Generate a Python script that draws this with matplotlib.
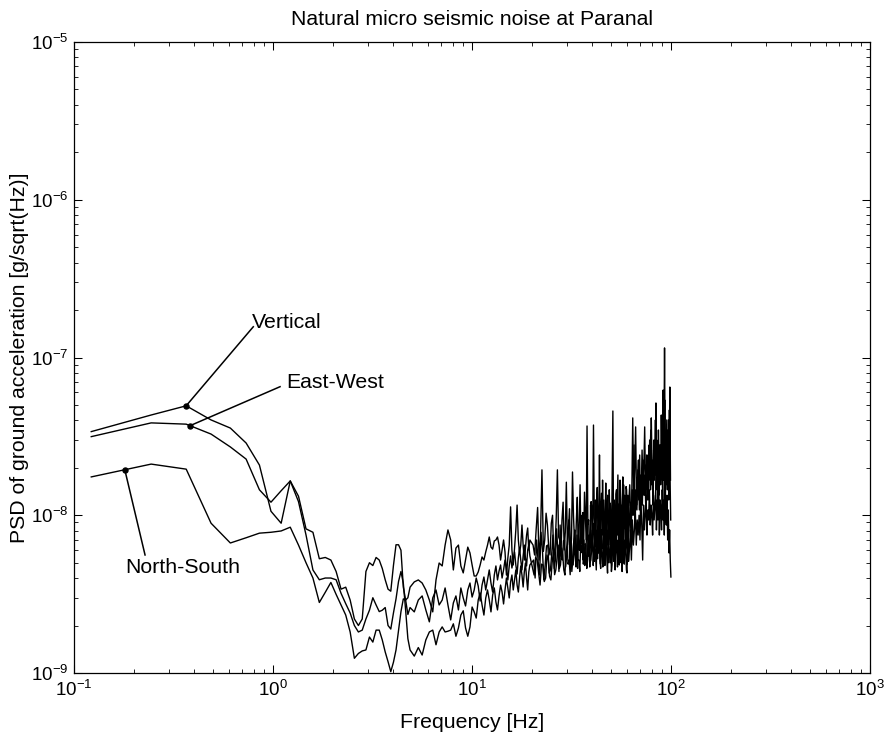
import numpy as np
import matplotlib
matplotlib.use("Agg")
import matplotlib.pyplot as plt
from matplotlib.ticker import LogLocator, NullFormatter, FixedLocator

plt.rcParams["font.family"] = ["Liberation Sans", "DejaVu Sans"]
plt.rcParams["axes.unicode_minus"] = False

TITLE = "Natural micro seismic noise at Paranal"
XLABEL = "Frequency [Hz]"
YLABEL = "PSD of ground acceleration [g/sqrt(Hz)]"

# spectral resolution of the PSD (Hz) and unit of the values below (g/sqrt(Hz))
DF = 0.1221
UNIT = 1e-9

# frequency bin indices used for the parts of each spectrum
BINS_LOW = list(range(1, 41))          # 0.12 - 4.9 Hz, every bin
BINS_MID = list(range(42, 161, 2))     # 5 - 20 Hz, every 2nd bin
C1_START, C1_STEP = 166, 3             # 20 - 61 Hz, every 3rd bin
C2_START, C2_STEP = 502, 6             # 61 - 100 Hz, every 6th bin

# ---- Vertical (values in 1e-9 g/sqrt(Hz)) ----
vertical_low = [33.9, 43.2, 49.4, 40.2, 35.7, 28.7, 20.8, 10.6, 8.9, 16.5,
                13.2, 8.2, 7.8, 5.3, 5.4, 5.2, 4.4, 3.4, 3.5, 2.9,
                2.2, 2.0, 2.2, 4.4, 5.0, 4.8, 5.4, 5.2, 4.6, 3.9,
                3.4, 3.3, 4.8, 6.5, 6.5, 6.0, 3.5, 2.9, 3.0, 3.5]
vertical_mid = [3.78, 3.89, 3.72, 3.36, 2.90, 2.44, 3.89, 4.98, 4.77, 6.47,
                8.07, 6.97, 4.50, 6.19, 6.47, 4.77, 4.31, 5.20, 6.28, 5.77,
                4.84, 4.12, 4.12, 4.37, 4.84, 5.44, 5.20, 5.85, 6.47, 7.28,
                6.28, 6.10, 6.87, 6.97, 7.28, 6.47, 5.20, 6.02, 6.97, 5.85,
                4.18, 5.36, 6.47, 11.3, 6.02, 4.84, 6.19, 8.07, 11.6, 6.97,
                5.77, 6.47, 8.67, 6.47, 5.20, 6.19, 7.49, 8.3, 6.02, 6.97]
vertical_c1 = [6.47, 5.6, 8.07, 11.2, 5.20, 7.5, 19.4, 5.9,
               6.97, 10.3, 8.67, 6.2, 5.60, 8.9, 10.0, 5.3,
               6.19, 9.6, 19.4, 7.3, 6.97, 5.5, 9.34, 12.1,
               6.02, 7.8, 16.2, 6.5, 8.07, 11.0, 5.60, 7.1,
               18.8, 9.9, 6.97, 5.8, 9.34, 13.0, 6.19, 8.4,
               15.6, 6.6, 8.07, 10.4, 6.47, 14.0, 10.0, 7.0,
               36.8, 8.8, 9.34, 5.9, 6.47, 12.2, 10.8, 7.7,
               37.3, 9.6, 8.07, 6.3, 11.6, 15.0, 6.97, 9.0,
               24.1, 7.2, 10.8, 13.8, 7.49, 9.8, 12.5, 6.8,
               8.67, 16.0, 6.97, 10.5, 13.4, 7.6, 9.34, 12.0,
               11.6, 6.9, 8.07, 19.0, 45.8, 9.1, 12.5, 7.3,
               8.67, 13.6, 14.5, 9.5, 7.49, 11.8, 10.8, 7.0,
               16.7, 12.0, 9.34, 6.6, 12.5, 17.5, 6.97, 9.9,
               13.4, 8.2, 10.0, 15.2, 14.5, 8.7, 8.07, 11.5]
vertical_c2 = [11.6, 15.6, 9.34, 12.5, 41.4,
               13.4, 19.4, 36.3, 11.6, 16.7, 22.4, 10.8, 18.0,
               13.4, 25.9, 15.6, 19.4, 36.3, 14.5, 20.8, 12.5,
               24.1, 16.7, 30.0, 14.5, 41.4, 19.4, 13.4, 25.9,
               16.7, 22.4, 51.5, 15.6, 19.4, 30.0, 13.4, 20.8,
               25.9, 16.7, 34.7, 18.0, 62.2, 22.4, 115.0, 19.4,
               30.0, 15.6, 34.7, 20.8, 40.2, 19.4, 65.0, 16.7]

# ---- East-West ----
eastwest_low = [31.5, 38.5, 37.8, 32.7, 27.1, 22.7, 14.5, 12.1, 14.3, 16.5,
                12.2, 7.5, 4.5, 3.9, 4.0, 4.0, 3.9, 3.2, 2.75, 2.4,
                2.0, 1.82, 1.87, 2.2, 2.5, 3.0, 2.7, 2.45, 2.5, 2.6,
                2.0, 1.9, 2.4, 2.95, 3.8, 4.4, 3.7, 2.5, 1.65, 1.4]
eastwest_mid = [1.28, 1.45, 1.30, 1.62, 1.82, 1.87, 1.51, 1.82, 1.96, 1.82,
                1.84, 1.87, 2.05, 1.71, 1.93, 2.33, 2.48, 1.93, 1.71, 1.96,
                2.62, 2.44, 2.23, 2.90, 3.22, 2.70, 2.33, 2.99, 3.36, 2.90,
                2.44, 3.12, 3.46, 2.82, 2.51, 3.08, 3.61, 3.26, 2.74, 3.36,
                4.00, 3.46, 2.99, 3.78, 4.18, 3.36, 3.89, 4.50, 3.61, 3.26,
                4.00, 4.77, 4.18, 3.51, 4.37, 4.98, 4.00, 3.36, 4.37, 4.84]
eastwest_c1 = [5.20, 4.0, 6.97, 5.1, 4.18, 7.8, 6.02, 3.9,
               4.84, 6.4, 6.47, 4.3, 4.50, 5.7, 7.49, 4.6,
               5.20, 8.2, 6.02, 4.4, 8.67, 5.3, 5.20, 6.9,
               6.97, 4.7, 5.60, 7.6, 9.34, 5.0, 6.47, 4.4,
               5.20, 7.0, 8.07, 5.4, 6.02, 4.6, 8.67, 6.0,
               6.47, 9.8, 10.0, 5.2, 6.97, 4.8, 5.60, 7.3,
               9.34, 5.5, 7.49, 4.7, 11.6, 6.2, 6.47, 8.9,
               8.67, 5.1, 12.5, 7.0, 6.97, 5.3, 9.34, 11.0,
               6.47, 4.9, 8.07, 6.1, 16.7, 8.3, 10.0, 5.6,
               6.02, 9.0, 10.8, 6.5, 7.49, 5.0, 14.5, 7.8,
               6.47, 10.2, 9.34, 5.7, 13.4, 8.0, 6.97, 4.8,
               10.8, 6.6, 8.07, 12.0, 18.0, 6.3, 9.34, 7.5,
               6.47, 10.9, 11.6, 5.5, 8.07, 7.2, 15.6, 9.6,
               10.0, 5.9, 6.47, 8.8, 10.8, 4.9, 13.4, 7.3]
eastwest_c2 = [8.07, 11.6, 6.97, 14.5, 10.0,
               27.9, 8.67, 14.5, 10.8, 19.4, 12.5, 24.1, 9.34,
               16.7, 11.6, 22.4, 13.4, 18.0, 10.8, 24.1, 16.7,
               12.5, 27.9, 18.0, 34.7, 15.6, 22.4, 11.6, 30.0,
               18.0, 40.2, 14.5, 24.1, 12.5, 34.7, 19.4, 27.9,
               15.6, 43.2, 20.8, 12.5, 32.3, 16.7, 53.8, 13.4,
               24.1, 40.2, 14.5, 27.9, 12.5, 46.5, 18.0, 9.34]

# ---- North-South ----
northsouth_low = [17.5, 21.1, 19.6, 8.9, 6.67, 7.2, 7.7, 7.8, 7.95, 8.4,
                  6.47, 5.0, 4.0, 2.8, 3.25, 3.75, 3.15, 2.7, 2.33, 1.82,
                  1.24, 1.33, 1.38, 1.40, 1.69, 1.57, 1.87, 1.87, 1.62, 1.36,
                  1.18, 1.02, 1.17, 1.40, 1.87, 2.45, 2.95, 2.9, 2.35, 2.6]
northsouth_mid = [2.44, 2.90, 3.08, 2.51, 2.11, 2.99, 3.36, 2.70, 2.90, 3.46,
                  2.70, 2.17, 2.78, 3.08, 2.51, 3.46, 2.99, 2.66, 3.36, 3.72,
                  3.03, 3.36, 4.00, 3.56, 2.86, 3.61, 4.06, 3.36, 3.89, 4.50,
                  3.72, 3.26, 4.18, 4.77, 3.89, 4.43, 4.84, 4.00, 4.50, 5.20,
                  4.63, 3.89, 4.77, 5.52, 4.63, 5.20, 5.85, 4.84, 4.24, 5.36,
                  6.19, 5.20, 4.50, 5.52, 6.47, 5.36, 4.77, 6.02, 6.47, 5.52]
northsouth_c1 = [4.18, 5.4, 5.20, 4.3, 3.61, 4.9, 4.84, 3.8,
                 4.00, 5.6, 5.20, 4.1, 3.89, 5.0, 5.85, 4.2,
                 4.50, 5.3, 6.47, 4.6, 4.84, 6.2, 5.60, 4.5,
                 4.18, 5.9, 6.47, 4.9, 5.20, 4.2, 6.97, 5.5,
                 4.84, 6.4, 5.60, 4.7, 7.49, 5.2, 5.20, 4.4,
                 6.47, 5.8, 8.07, 4.9, 5.60, 6.6, 6.47, 4.6,
                 5.20, 7.3, 6.97, 5.0, 5.20, 6.1, 8.07, 4.8,
                 6.02, 7.0, 5.60, 4.5, 8.07, 5.7, 6.19, 7.9,
                 5.20, 4.6, 6.97, 6.0, 4.70, 5.4, 8.67, 4.8,
                 6.02, 7.1, 5.20, 4.3, 8.07, 6.4, 5.60, 5.0,
                 6.97, 4.4, 4.84, 6.8, 7.49, 5.1, 6.02, 4.5,
                 8.67, 6.3, 5.60, 4.7, 6.97, 5.6, 4.84, 7.4,
                 8.07, 5.0, 6.02, 4.4, 7.49, 6.7, 5.20, 4.9,
                 6.97, 5.8, 5.60, 4.5, 4.31, 6.2, 7.49, 5.1]
northsouth_c2 = [6.02, 8.07, 5.20, 9.34, 6.47,
                 8.07, 10.8, 6.47, 9.34, 7.49, 10.0, 6.97, 12.5,
                 8.67, 5.20, 11.6, 8.07, 10.0, 13.4, 7.49, 10.8,
                 9.34, 14.5, 8.67, 11.6, 10.0, 7.49, 13.4, 9.34,
                 11.6, 14.5, 8.07, 12.5, 9.34, 15.6, 7.49, 12.5,
                 10.8, 8.07, 14.5, 9.34, 12.5, 7.49, 16.7, 10.0,
                 8.67, 13.4, 6.97, 10.8, 5.77, 8.07, 5.20, 4.06]

# name, parts, bin offset of the sparse high-frequency parts
SERIES = [
    ("Vertical", vertical_low, vertical_mid, vertical_c1, vertical_c2, 0),
    ("East-West", eastwest_low, eastwest_mid, eastwest_c1, eastwest_c2, 1),
    ("North-South", northsouth_low, northsouth_mid, northsouth_c1, northsouth_c2, 2),
]

# annotation: frequency of the marker on each curve, leader end and text position
ANNOT_FREQ = {"Vertical": 0.366, "East-West": 0.383, "North-South": 0.18}
LEADER_END = {"Vertical": (0.796, 1.566e-7), "East-West": (1.085, 6.53e-8),
              "North-South": (0.2275, 5.6e-9)}
TEXT_POS = {"Vertical": (0.784, 1.54e-7), "East-West": (1.17, 6.41e-8),
            "North-South": (0.180, 4.3e-9)}

X_TICKS = [0.1, 1, 10, 100, 1000]
Y_TICKS = [1e-9, 1e-8, 1e-7, 1e-6, 1e-5]

W, H = 888, 736
fig = plt.figure(figsize=(W / 100, H / 100), dpi=100)
ax = fig.add_axes([74 / W, 63 / H, 796 / W, 631 / H])

for name, low, mid, c1, c2, off in SERIES:
    c1_bins = [C1_START + off + C1_STEP * j for j in range(len(c1))]
    c2_bins = [C2_START + 2 * off + C2_STEP * j for j in range(len(c2))]
    freq = DF * np.array(BINS_LOW + BINS_MID + c1_bins + c2_bins, dtype=float)
    vals = np.array(low + mid + c1 + c2, dtype=float) * UNIT
    ax.plot(freq, vals, color="black", lw=1.0)

    fa = ANNOT_FREQ[name]
    va_ = np.exp(np.interp(np.log(fa), np.log(freq), np.log(vals)))
    ex, ey = LEADER_END[name]
    ax.plot([fa, ex], [va_, ey], color="black", lw=1.1)
    ax.plot([fa], [va_], "o", color="black", ms=3.6)
    tx, ty = TEXT_POS[name]
    ax.text(tx, ty, name, fontsize=15.3, ha="left", va="baseline", color="black")

ax.set_xscale("log")
ax.set_yscale("log")
ax.set_xlim(0.1, 1000)
ax.set_ylim(1e-9, 1e-5)

ax.xaxis.set_major_locator(FixedLocator(X_TICKS))
ax.yaxis.set_major_locator(FixedLocator(Y_TICKS))
ax.xaxis.set_minor_locator(LogLocator(base=10, subs=np.arange(2, 10), numticks=20))
ax.yaxis.set_minor_locator(LogLocator(base=10, subs=np.arange(2, 10), numticks=20))
ax.xaxis.set_minor_formatter(NullFormatter())
ax.yaxis.set_minor_formatter(NullFormatter())

ax.tick_params(which="both", direction="in", top=True, right=True, colors="black")
ax.tick_params(which="major", length=5.5, width=0.75, labelsize=13.5)
ax.tick_params(which="minor", length=2.9, width=0.6)
ax.tick_params(axis="x", pad=5)
ax.tick_params(axis="y", pad=4.3)
for sp in ax.spines.values():
    sp.set_linewidth(0.9)
    sp.set_color("black")

ax.set_title(TITLE, fontsize=15.3, pad=12)
ax.set_xlabel(XLABEL, fontsize=15.3)
ax.set_ylabel(YLABEL, fontsize=15.3)
ax.xaxis.set_label_coords(0.5, -0.063)
ax.yaxis.set_label_coords(-0.057, 0.5)

fig.savefig("out.png", dpi=100, facecolor="white")
